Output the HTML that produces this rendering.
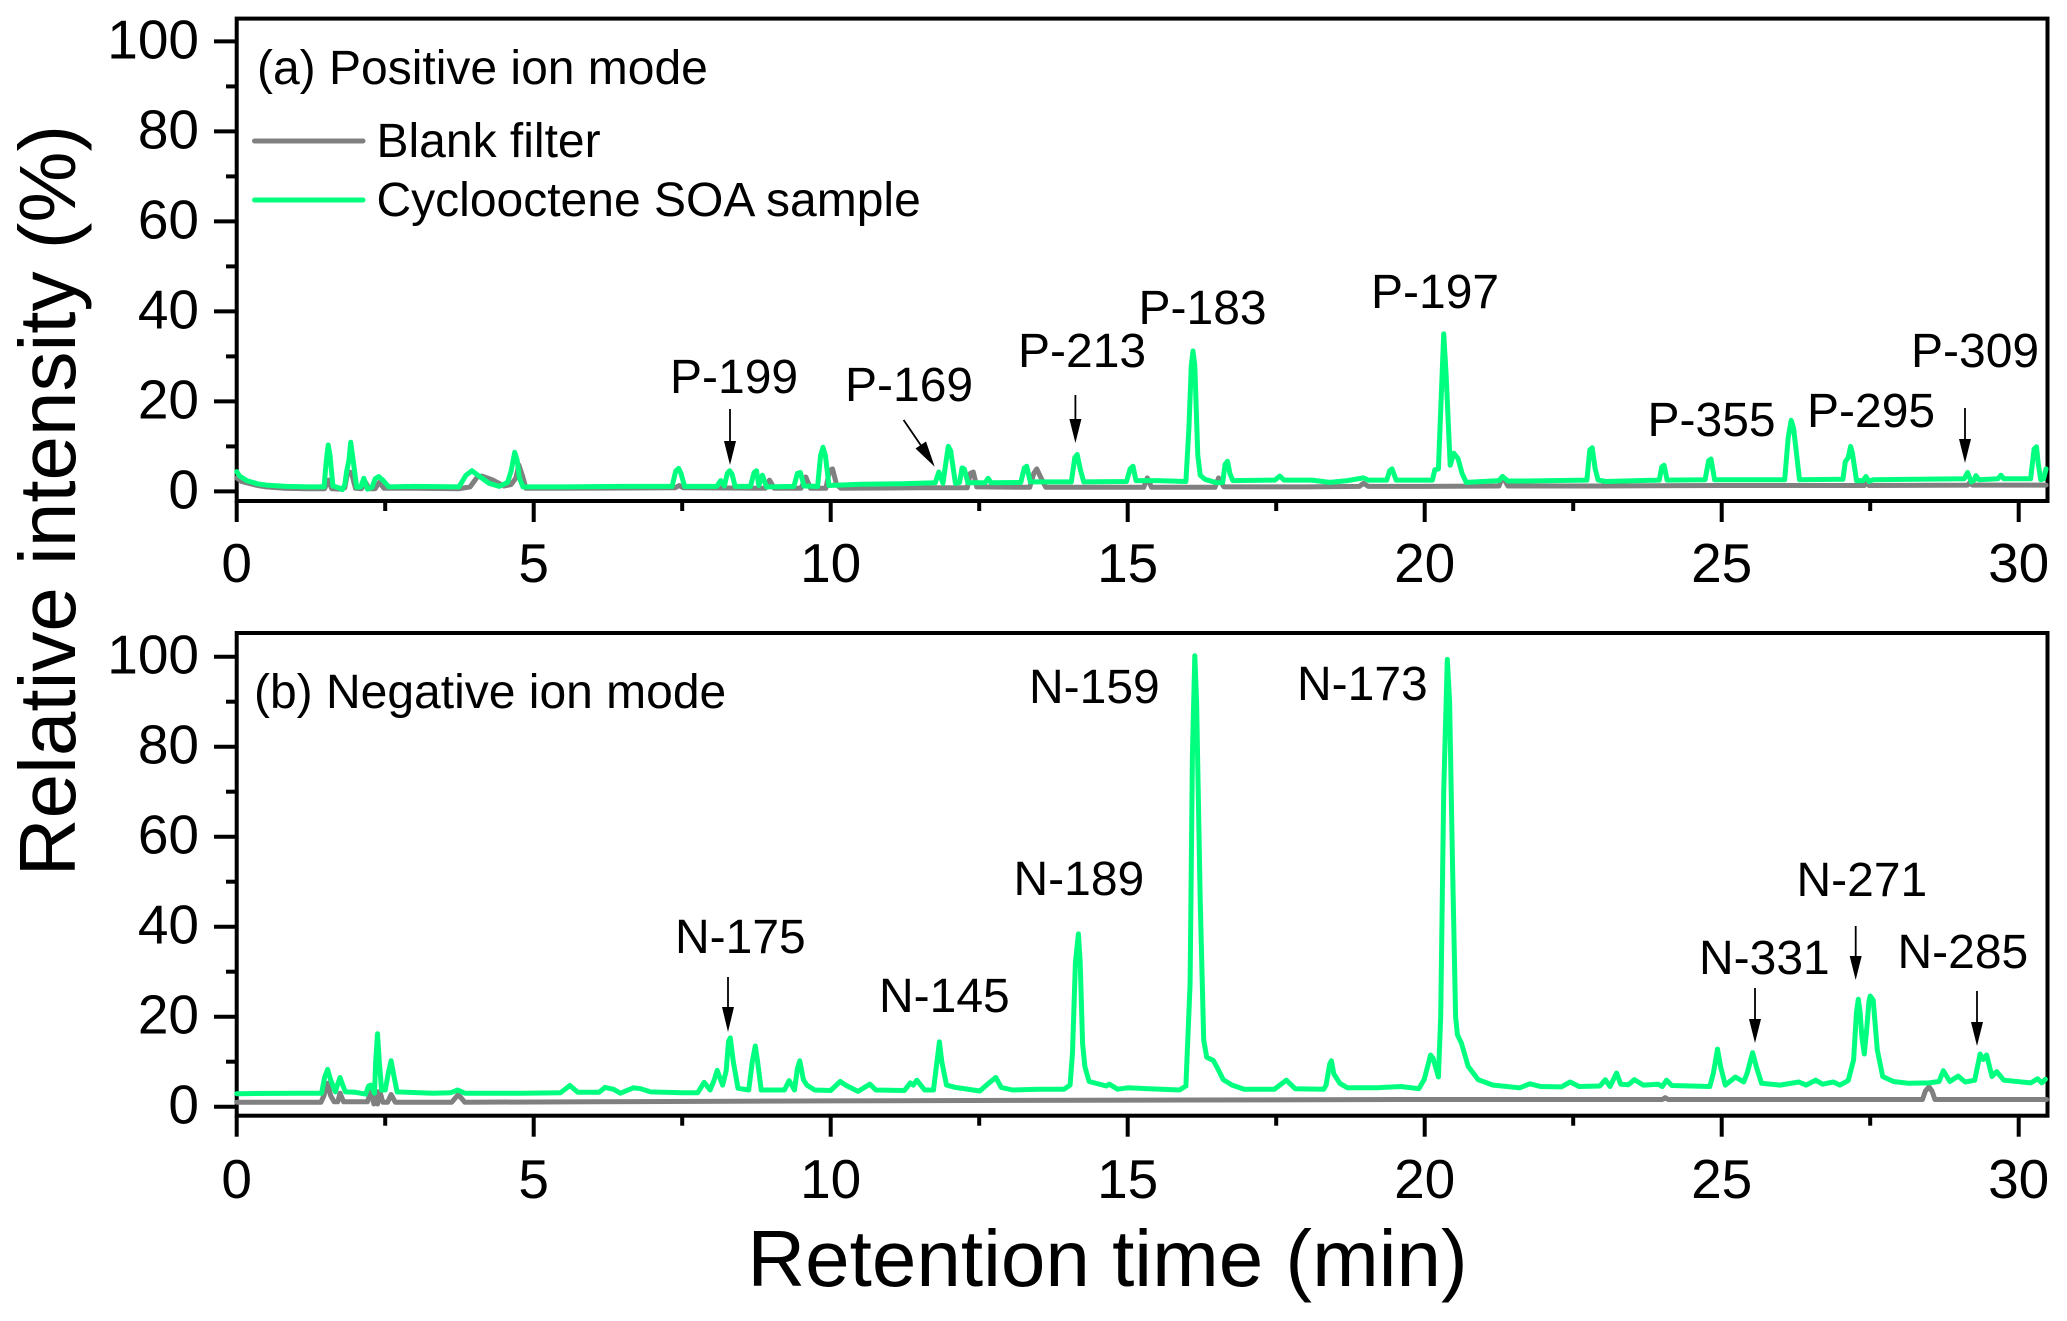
<!DOCTYPE html>
<html lang="en">
<head>
<meta charset="utf-8">
<title>Retention time chromatograms</title>
<style>
html,body{margin:0;padding:0;background:#fff;}
svg{display:block;}
text{font-family:"Liberation Sans",Arial,sans-serif;fill:#000;}
.ann{font-size:48px;}
.tick{font-size:55px;}
.title{font-size:80px;}
</style>
</head>
<body>
<svg id="chart" xmlns="http://www.w3.org/2000/svg" width="2067" height="1321" viewBox="0 0 2067 1321">
  <rect x="0" y="0" width="2067" height="1321" fill="#fff"/>

  <g id="panel-a"></g>
  <g id="panel-b"></g>

  <text class="title" transform="translate(75,500.5) rotate(-90)" text-anchor="middle">Relative intensity (%)</text>
  <text class="title" x="1107.5" y="1286" text-anchor="middle">Retention time (min)</text>

  <text class="ann" x="257" y="84">(a) Positive ion mode</text>
  <text class="ann" x="254" y="708">(b) Negative ion mode</text>

  <g>
    <line x1="254.5" y1="141" x2="363" y2="141" stroke="#808080" stroke-width="5" stroke-linecap="round"/>
    <text class="ann" x="376.5" y="157">Blank filter</text>
    <line x1="254.5" y1="200" x2="363" y2="200" stroke="#00FF7F" stroke-width="5" stroke-linecap="round"/>
    <text class="ann" x="376.5" y="216">Cyclooctene SOA sample</text>
  </g>

  <g>
    <text class="ann" x="670" y="393">P-199</text>
    <text class="ann" x="845" y="401">P-169</text>
    <text class="ann" x="1018" y="367">P-213</text>
    <text class="ann" x="1138.5" y="324">P-183</text>
    <text class="ann" x="1371" y="308">P-197</text>
    <text class="ann" x="1647.5" y="436">P-355</text>
    <text class="ann" x="1807" y="427">P-295</text>
    <text class="ann" x="1911" y="367">P-309</text>
  </g>
  <g>
    <text class="ann" x="675" y="953">N-175</text>
    <text class="ann" x="879" y="1012">N-145</text>
    <text class="ann" x="1013.5" y="895">N-189</text>
    <text class="ann" x="1029" y="703">N-159</text>
    <text class="ann" x="1297" y="700">N-173</text>
    <text class="ann" x="1699" y="974">N-331</text>
    <text class="ann" x="1796.5" y="896">N-271</text>
    <text class="ann" x="1897.5" y="968">N-285</text>
  </g>

  <g stroke="#000" stroke-width="1.8" fill="#000">
    <g><line x1="730" y1="409" x2="730" y2="445"/><polygon stroke="none" points="724,441 736,441 730,465"/></g>
    <g><line x1="903.6" y1="420" x2="922" y2="447"/><polygon stroke="none" points="915.5,448.5 926,441.5 934.7,466.7"/></g>
    <g><line x1="1075.4" y1="395" x2="1075.4" y2="423"/><polygon stroke="none" points="1069.4,419 1081.4,419 1075.4,443"/></g>
    <g><line x1="1965" y1="408" x2="1965" y2="443"/><polygon stroke="none" points="1959,439 1971,439 1965,463"/></g>
    <g><line x1="728" y1="977" x2="728" y2="1011"/><polygon stroke="none" points="722,1007 734,1007 728,1032"/></g>
    <g><line x1="1755" y1="988" x2="1755" y2="1023"/><polygon stroke="none" points="1749,1019 1761,1019 1755,1043"/></g>
    <g><line x1="1855.7" y1="926" x2="1855.7" y2="960"/><polygon stroke="none" points="1849.7,956 1861.7,956 1855.7,980"/></g>
    <g><line x1="1977" y1="991" x2="1977" y2="1026"/><polygon stroke="none" points="1971,1022 1983,1022 1977,1046"/></g>
  </g>
</svg>

<script>
// Axis tick values and labels
const xMajorTicks = [0, 5, 10, 15, 20, 25, 30];
const xMinorTicks = [2.5, 7.5, 12.5, 17.5, 22.5, 27.5];
const xTickLabels = ["0", "5", "10", "15", "20", "25", "30"];
const yMajorTicks = [0, 20, 40, 60, 80, 100];
const yMinorTicks = [10, 30, 50, 70, 90];
const yTickLabels = ["0", "20", "40", "60", "80", "100"];

// Panel (a) blank filter: [retention time, relative intensity]
const blankPositive = [
[0,3],[0.08,2.2],[0.17,1.9],[0.35,1.3],[0.5,1],[0.8,0.7],[1.2,0.6],[1.48,0.6],[1.54,2.5],[1.6,0.6],[1.75,0.5],[1.82,0.8],
[1.87,4.4],[1.93,4.2],[2,0.7],[2.1,0.6],[2.17,2],[2.23,0.6],[2.33,0.6],[2.4,2],[2.48,0.7],[3,0.7],[3.75,0.6],[3.93,1],
[4.05,3.2],[4.13,3.4],[4.3,2.6],[4.5,1.2],[4.62,1.5],[4.7,3],[4.75,5.9],[4.81,3.5],[4.87,0.7],[5.5,0.7],[7.38,0.8],[7.45,1.3],
[7.52,0.8],[8.9,0.7],[8.97,2.5],[9.05,0.7],[9.5,0.7],[9.58,3.2],[9.66,0.7],[9.92,0.7],[9.98,4.6],[10.03,5],[10.1,1.5],[10.17,0.7],
[11.5,0.8],[12.3,0.8],[12.35,4],[12.4,4.3],[12.46,1],[13.35,0.9],[13.42,4],[13.47,5],[13.54,3],[13.62,0.9],[15.27,0.9],[15.33,3],
[15.4,0.9],[16.47,0.9],[16.53,3],[16.62,1],[18,1],[18.9,1.1],[18.97,1.8],[19.05,1.1],[20,1.1],[21.25,1.2],[21.31,3.3],[21.4,1.2],
[23,1.2],[25,1.3],[27.4,1.3],[27.43,2],[27.48,1.3],[29.14,1.4],[29.18,2],[29.22,1.4],[30.46,1.4]
];

// Panel (a) cyclooctene SOA sample
const soaPositive = [
[0,4.4],[0.05,3.4],[0.17,2.4],[0.35,1.7],[0.5,1.4],[0.83,1.1],[1.2,1],[1.47,1],[1.51,7],[1.54,10.3],[1.57,8],[1.62,1.2],[1.72,0.8],
[1.78,0.4],[1.82,1.5],[1.85,4.4],[1.89,7],[1.92,10.9],[1.95,8],[2.02,0.9],[2.09,1],[2.14,2.9],[2.2,0.5],[2.28,0.9],[2.33,2.8],
[2.39,3.3],[2.46,2.5],[2.56,1],[3,1.1],[3.74,1],[3.86,3.6],[3.96,4.6],[4.05,3.7],[4.25,1.8],[4.42,1.1],[4.56,2],[4.62,4.5],[4.68,8.7],
[4.72,7],[4.76,3],[4.82,1],[5.5,1],[6.5,1.1],[7.33,1.1],[7.39,4.5],[7.44,5.1],[7.48,4],[7.54,1.1],[8.08,1.1],[8.15,2.4],[8.21,1.2],
[8.26,4],[8.3,4.6],[8.34,3.8],[8.39,1.1],[8.65,1.1],[8.71,4.2],[8.75,4.6],[8.79,1.3],[8.85,3.6],[8.92,1],[9.38,1.1],[9.44,4],
[9.49,4.2],[9.55,1.2],[9.78,1.1],[9.83,8],[9.87,9.8],[9.91,8],[9.97,1.3],[10.5,1.6],[11.2,1.7],[11.76,1.9],[11.82,4.3],[11.89,1.8],
[11.93,5.5],[11.98,10],[12.02,9],[12.1,1.8],[12.17,2],[12.21,5.2],[12.25,5],[12.31,1.9],[12.6,1.9],[12.65,2.9],[12.7,1.9],[13.2,2],
[13.26,5.2],[13.3,5.6],[13.36,2.1],[14.05,2.1],[14.11,7.5],[14.15,8.2],[14.2,5],[14.26,2.1],[14.98,2.2],[15.04,5],[15.09,5.6],
[15.14,2.4],[15.5,2.4],[15.98,2.2],[16.03,14],[16.07,28],[16.1,31.2],[16.13,28],[16.18,8],[16.22,3.6],[16.3,2.7],[16.5,1.9],[16.6,2],
[16.64,6],[16.68,6.7],[16.72,4],[16.77,2.4],[17.48,2.5],[17.56,3.4],[17.63,2.5],[18.1,2.5],[18.4,2],[18.7,2.4],[18.97,3],[19.05,2.5],
[19.36,2.5],[19.41,4.6],[19.45,5],[19.52,2.5],[20.13,2.5],[20.17,4.8],[20.23,5],[20.27,18],[20.32,35],[20.36,26],[20.43,5.8],
[20.49,8.5],[20.56,7.3],[20.63,4],[20.7,2],[21.25,2.4],[21.31,3.3],[21.4,2.3],[21.7,2.3],[22.73,2.5],[22.78,9.2],[22.82,9.7],
[22.87,5],[22.92,2.5],[23.05,2.2],[23.95,2.5],[23.99,5.4],[24.03,5.8],[24.08,2.5],[24.72,2.6],[24.78,6.8],[24.82,7.2],[24.88,2.6],
[26.06,2.6],[26.12,12],[26.17,15.8],[26.21,14],[26.31,2.6],[27.04,2.7],[27.08,6.6],[27.13,7.5],[27.17,10],[27.2,8.5],[27.27,2.4],
[27.38,2.4],[27.43,3.3],[27.48,2.2],[27.55,2.6],[29.08,2.8],[29.14,4.2],[29.2,2.1],[29.25,2.5],[29.28,3.5],[29.33,2.6],[29.65,2.8],
[29.7,3.6],[29.75,2.8],[30.2,2.8],[30.26,9.4],[30.3,9.9],[30.33,6],[30.37,2.6],[30.42,2.8],[30.46,5]
];

// Panel (b) blank filter
const blankNegative = [
[0,1],[1.42,1],[1.47,2.5],[1.53,5.2],[1.58,2.5],[1.64,1.1],[1.7,1.1],[1.74,3],[1.8,1.1],[2.2,1.1],[2.26,3.4],[2.31,0.6],[2.35,3.4],
[2.37,0.6],[2.41,3.4],[2.46,1],[2.54,1],[2.6,2.7],[2.67,1],[3.62,1],[3.73,2.7],[3.84,1],[6,1.1],[10,1.3],[13,1.4],[16,1.5],[20,1.6],
[24,1.6],[24.05,2],[24.1,1.6],[28.38,1.6],[28.43,3.5],[28.49,4.4],[28.54,3.5],[28.59,1.6],[30.47,1.6]
];

// Panel (b) cyclooctene SOA sample
const soaNegative = [
[0,2.9],[1,3],[1.43,3],[1.48,6.5],[1.53,8.3],[1.58,6],[1.66,3.3],[1.7,5],[1.74,6.5],[1.78,5],[1.83,3.3],[2,3.2],[2.17,2.8],[2.22,4.6],
[2.26,4.8],[2.32,3],[2.34,10],[2.37,16.2],[2.4,10],[2.44,3.7],[2.5,3.7],[2.56,8],[2.6,10.2],[2.63,8],[2.7,3.3],[3.3,3],[3.6,3.1],
[3.72,3.7],[3.84,3],[4.8,3],[5.45,3.1],[5.61,4.7],[5.74,3.2],[6.1,3.2],[6.2,4.3],[6.34,3.9],[6.46,3],[6.68,4.2],[6.8,4],[6.97,3.3],
[7.5,3.1],[7.76,3.1],[7.87,5.4],[7.97,3.7],[8.04,6],[8.09,8.1],[8.18,4.8],[8.24,8],[8.28,14.5],[8.31,15.3],[8.36,10],[8.44,4.1],
[8.62,3.7],[8.68,10],[8.73,13.5],[8.77,10],[8.83,3.7],[9.22,3.7],[9.3,5.8],[9.39,3.7],[9.44,8.5],[9.48,10.2],[9.54,6],[9.6,4.8],
[9.73,3.7],[10,3.6],[10.16,5.6],[10.25,4.8],[10.46,3.4],[10.66,5],[10.76,3.7],[11.24,3.6],[11.34,5.3],[11.39,4.8],[11.45,5.9],[11.58,3.7],
[11.73,3.7],[11.78,9],[11.83,14.4],[11.87,10],[11.95,4.8],[12.1,4.3],[12.51,3.5],[12.64,5],[12.78,6.5],[12.87,4.3],[13.06,3.7],[13.5,3.9],
[13.93,3.9],[14.03,4.8],[14.07,12],[14.12,32],[14.17,38.4],[14.2,32],[14.24,14],[14.28,8.9],[14.35,5.6],[14.64,4.6],[14.69,5],[14.83,3.9],
[15,4.2],[15.87,3.7],[15.98,4.6],[16.05,27.4],[16.09,78],[16.13,100.2],[16.16,90],[16.22,46],[16.28,14.8],[16.33,11],[16.44,10.3],
[16.5,8.9],[16.61,6],[16.76,4.8],[16.96,3.9],[17.47,3.9],[17.56,4.8],[17.67,5.9],[17.82,4],[18.3,3.9],[18.34,4.8],[18.4,9.5],[18.43,10.2],
[18.47,7.3],[18.57,5.2],[18.7,4.2],[19.2,4.2],[19.6,4.5],[19.9,4],[19.99,6],[20.1,11.5],[20.14,10.8],[20.23,6.6],[20.27,20],[20.32,70],
[20.38,99.4],[20.42,90],[20.47,53],[20.52,20],[20.55,16],[20.62,14.1],[20.73,9],[20.9,6],[21.15,4.8],[21.6,4.2],[21.77,5.1],[21.95,4.5],
[22.3,4.4],[22.45,5.5],[22.6,4.5],[22.95,4.6],[23.04,6],[23.12,4.5],[23.23,7.5],[23.3,5],[23.43,4.9],[23.53,6],[23.68,4.8],[23.93,5],
[24,4.5],[24.07,5.9],[24.16,4.7],[24.8,4.5],[24.86,7.5],[24.93,12.8],[24.98,9],[25.06,4.8],[25.23,6.6],[25.37,5.5],[25.43,7.5],[25.52,12],
[25.58,9],[25.67,5.2],[25.98,4.8],[26.3,5.5],[26.42,4.8],[26.58,5.9],[26.7,5],[26.88,5.5],[26.99,4.8],[27.13,5.8],[27.22,10.4],[27.27,21],
[27.3,23.9],[27.33,21],[27.36,15.5],[27.4,11.7],[27.44,17],[27.48,23.5],[27.5,24.6],[27.55,23.7],[27.62,12.6],[27.71,6.7],[27.89,5.6],
[28.15,5.2],[28.49,5.3],[28.66,5.6],[28.73,8],[28.84,5.6],[28.98,6.8],[29.1,5.5],[29.26,5.9],[29.35,11.7],[29.4,10.5],[29.46,11.5],
[29.55,6.7],[29.63,7.8],[29.75,5.9],[30.2,5.3],[30.32,6.2],[30.39,5.3],[30.45,6.1]
];

// Axis functions
const plotLeft = 236.7, pxPerMinute = 59.4, pxPerPercent = 4.5;
function xScale(t) { return plotLeft + t * pxPerMinute; }
function yScaleA(v) { return 491.4 - v * pxPerPercent; }
function yScaleB(v) { return 1106.7 - v * pxPerPercent; }

const NS = 'http://www.w3.org/2000/svg';

function drawLine(parent, name, x1, y1, x2, y2) {
  const el = document.createElementNS(NS, 'line');
  
  
  el.setAttribute('x1', x1);
  el.setAttribute('y1', y1);
  el.setAttribute('x2', x2);
  el.setAttribute('y2', y2);
  el.setAttribute('stroke', '#000');
  el.setAttribute('stroke-width', '4');
  parent.appendChild(el);
}

function drawLabel(parent, name, x, y, anchor, content) {
  const el = document.createElementNS(NS, 'text');
  
  
  el.setAttribute('class', 'tick');
  el.setAttribute('x', x);
  el.setAttribute('y', y);
  el.setAttribute('text-anchor', anchor);
  el.textContent = content;
  parent.appendChild(el);
}

function drawSeries(parent, name, points, yScale, color, width) {
  const el = document.createElementNS(NS, 'polyline');
  
  
  el.setAttribute('points', points.map(p => xScale(p[0]).toFixed(1) + ',' + yScale(p[1]).toFixed(1)).join(' '));
  el.setAttribute('fill', 'none');
  el.setAttribute('stroke', color);
  el.setAttribute('stroke-width', width);
  el.setAttribute('stroke-linejoin', 'round');
  el.setAttribute('stroke-linecap', 'round');
  parent.appendChild(el);
}

function drawPanel(id, prefix, top, bottom, xLabelY, yScale, blank, soa) {
  const g = document.getElementById(id);
  const frame = document.createElementNS(NS, 'rect');
  
  
  frame.setAttribute('x', plotLeft);
  frame.setAttribute('y', top);
  frame.setAttribute('width', 2047.5 - plotLeft);
  frame.setAttribute('height', bottom - top);
  frame.setAttribute('fill', 'none');
  frame.setAttribute('stroke', '#000');
  frame.setAttribute('stroke-width', '4');
  g.appendChild(frame);

  xMajorTicks.forEach((t, i) => {
    drawLine(g, prefix + '-x-major-tick', xScale(t), bottom, xScale(t), bottom + 21);
    drawLabel(g, prefix + '-x-tick-label', xScale(t), xLabelY, 'middle', xTickLabels[i]);
  });
  xMinorTicks.forEach(t => {
    drawLine(g, prefix + '-x-minor-tick', xScale(t), bottom, xScale(t), bottom + 10);
  });
  yMajorTicks.forEach((v, i) => {
    drawLine(g, prefix + '-y-major-tick', 214, yScale(v), plotLeft, yScale(v));
    drawLabel(g, prefix + '-y-tick-label', 199, yScale(v) + 17, 'end', yTickLabels[i]);
  });
  yMinorTicks.forEach(v => {
    drawLine(g, prefix + '-y-minor-tick', 226, yScale(v), plotLeft, yScale(v));
  });

  drawSeries(g, prefix + '-blank-filter-line', blank, yScale, '#808080', 5);
  drawSeries(g, prefix + '-cyclooctene-soa-line', soa, yScale, '#00FF7F', 5);
}

drawPanel('panel-a', 'panel-a', 18.6, 501, 582, yScaleA, blankPositive, soaPositive);
drawPanel('panel-b', 'panel-b', 633, 1115.7, 1198, yScaleB, blankNegative, soaNegative);
</script>
</body>
</html>
